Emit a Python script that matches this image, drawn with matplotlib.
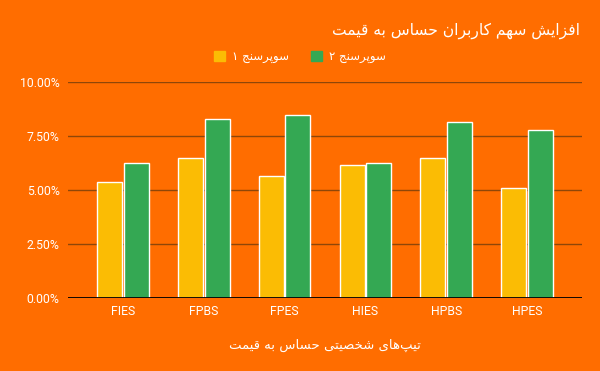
import numpy as np
import matplotlib
matplotlib.use("Agg")
import matplotlib.pyplot as plt
from matplotlib.ticker import FuncFormatter
from matplotlib.patches import Patch

# ── Data ─────────────────────────────────────────────────────────────────────
categories = ["FIES", "FPBS", "FPES", "HIES", "HPBS", "HPES"]
survey_1 = [5.40, 6.51, 5.68, 6.19, 6.51, 5.12]   # percent
survey_2 = [6.28, 8.31, 8.50, 6.28, 8.18, 7.81]   # percent
y_ticks = [0, 2.5, 5.0, 7.5, 10.0]

title_text = "افزایش سهم کاربران حساس به قیمت"
xlabel_text = "تیپ\u200cهای شخصیتی حساس به قیمت"
label_1 = "سوپرسنج ۱"
label_2 = "سوپرسنج ۲"

# ── Minimal Persian shaping (matplotlib has no complex text layout) ─────────
# letter: (isolated, final, initial, medial); 2-tuple = joins to the right only
FORMS = {
    "ا": ("\uFE8D", "\uFE8E"),
    "ب": ("\uFE8F", "\uFE90", "\uFE91", "\uFE92"),
    "پ": ("\uFB56", "\uFB57", "\uFB58", "\uFB59"),
    "ت": ("\uFE95", "\uFE96", "\uFE97", "\uFE98"),
    "ج": ("\uFE9D", "\uFE9E", "\uFE9F", "\uFEA0"),
    "ح": ("\uFEA1", "\uFEA2", "\uFEA3", "\uFEA4"),
    "خ": ("\uFEA5", "\uFEA6", "\uFEA7", "\uFEA8"),
    "ر": ("\uFEAD", "\uFEAE"),
    "ز": ("\uFEAF", "\uFEB0"),
    "س": ("\uFEB1", "\uFEB2", "\uFEB3", "\uFEB4"),
    "ش": ("\uFEB5", "\uFEB6", "\uFEB7", "\uFEB8"),
    "ص": ("\uFEB9", "\uFEBA", "\uFEBB", "\uFEBC"),
    "ف": ("\uFED1", "\uFED2", "\uFED3", "\uFED4"),
    "ق": ("\uFED5", "\uFED6", "\uFED7", "\uFED8"),
    "ک": ("\uFB8E", "\uFB8F", "\uFB90", "\uFB91"),
    "م": ("\uFEE1", "\uFEE2", "\uFEE3", "\uFEE4"),
    "ن": ("\uFEE5", "\uFEE6", "\uFEE7", "\uFEE8"),
    "ه": ("\uFEE9", "\uFEEA", "\uFEEB", "\uFEEC"),
    "و": ("\uFEED", "\uFEEE"),
    "ی": ("\uFBFC", "\uFBFD", "\uFBFE", "\uFBFF"),
}


def shape(text):
    chars = list(text)
    out = []
    for i, c in enumerate(chars):
        if c == "\u200c":
            continue
        if c not in FORMS:
            out.append(c)
            continue
        prev = chars[i - 1] if i > 0 else None
        nxt = chars[i + 1] if i + 1 < len(chars) else None
        join_prev = prev in FORMS and len(FORMS[prev]) == 4
        join_next = len(FORMS[c]) == 4 and nxt in FORMS
        f = FORMS[c]
        if join_prev and join_next:
            out.append(f[3])
        elif join_prev:
            out.append(f[1])
        elif join_next:
            out.append(f[2])
        else:
            out.append(f[0])
    return "".join(out)[::-1]


# ── Styling ──────────────────────────────────────────────────────────────────
BG = "#ff6d00"
YELLOW = "#fbbc04"
GREEN = "#34a853"
GRID = "#8f4608"
FA_FONT = ["DejaVu Sans"]
LAT_FONT = ["Roboto", "DejaVu Sans"]

fig = plt.figure(figsize=(6.0, 3.71), dpi=100, facecolor=BG)
ax = fig.add_axes([0.1133, 0.196, 0.8567, 0.582], facecolor=BG)

x = np.arange(len(categories))
w = 0.31
ax.bar(x - w / 2 - 0.01, survey_1, w, color=YELLOW, edgecolor="white", lw=1.0, zorder=3)
ax.bar(x + w / 2 + 0.01, survey_2, w, color=GREEN, edgecolor="white", lw=1.0, zorder=3)

ax.set_xlim(-0.68, 5.68)
ax.set_ylim(0, 10)
ax.set_yticks(y_ticks)
ax.yaxis.set_major_formatter(FuncFormatter(lambda v, _: f"{v:.2f}%"))
ax.set_xticks(x)
ax.set_xticklabels(categories)
ax.grid(axis="y", color=GRID, lw=1.0, zorder=0)
ax.axhline(0, color="black", lw=1.3, zorder=4)
for s in ax.spines.values():
    s.set_visible(False)
ax.tick_params(length=0, colors="white", labelsize=8.8, pad=6)
for lab in ax.get_xticklabels() + ax.get_yticklabels():
    lab.set_family(LAT_FONT)
ax.tick_params(axis="x", pad=5)

ax.set_xlabel(shape(xlabel_text), color="white", fontsize=9.5, family=FA_FONT, labelpad=15)

fig.text(0.967, 0.918, shape(title_text), color="white", fontsize=11.2,
         family=FA_FONT, ha="right", va="center")

handles = [Patch(color=YELLOW), Patch(color=GREEN)]
leg = fig.legend(handles, [shape(label_1), shape(label_2)], loc="center",
                 bbox_to_anchor=(0.5, 0.848), ncol=2, frameon=False,
                 handlelength=0.9, handleheight=0.9, handletextpad=0.6,
                 columnspacing=1.9, prop={"family": FA_FONT, "size": 8.5})
for t in leg.get_texts():
    t.set_color("white")

fig.savefig("out.png", dpi=100, facecolor=BG)
